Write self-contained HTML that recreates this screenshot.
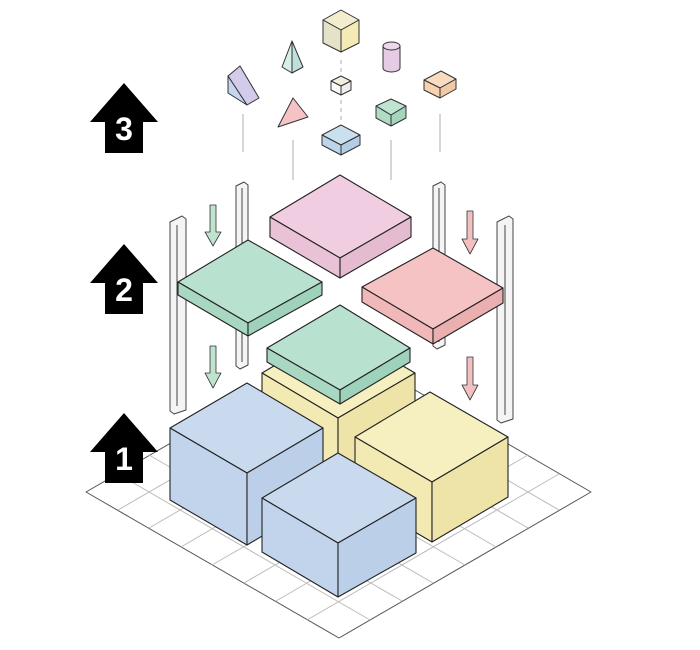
<!DOCTYPE html>
<html><head><meta charset="utf-8"><style>body{margin:0;background:#fff}svg{display:block}</style></head><body>
<svg width="700" height="650" viewBox="0 0 700 650" xmlns="http://www.w3.org/2000/svg" stroke-linejoin="round">
<defs>
<g id="arr"><path d="M0 0 L34 39 L19 39 L19 70 L-19 70 L-19 39 L-34 39 Z" fill="#000"/></g>
</defs>
<!-- grid -->
<g stroke="#bbb" stroke-width="1" fill="none">
<polygon points="339,346 591,492 339,638 86,492" fill="#fff" stroke="#555"/>
<g id="gl">
<line x1="370" y1="364" x2="118" y2="510"/><line x1="402" y1="382" x2="149" y2="528"/><line x1="433" y1="400" x2="181" y2="547"/><line x1="465" y1="419" x2="212" y2="565"/><line x1="496" y1="437" x2="244" y2="583"/><line x1="528" y1="455" x2="276" y2="601"/><line x1="559" y1="474" x2="307" y2="620"/>
<line x1="307" y1="364" x2="559" y2="510"/><line x1="276" y1="382" x2="528" y2="528"/><line x1="244" y1="400" x2="496" y2="547"/><line x1="212" y1="419" x2="465" y2="565"/><line x1="181" y1="437" x2="433" y2="583"/><line x1="149" y1="455" x2="402" y2="601"/><line x1="118" y1="474" x2="370" y2="620"/>
</g></g>
<!-- pillars -->
<g stroke="#444" stroke-width="1" fill="#f4f4f4">
<polygon points="236,186 244,182 248,185 248,365 240,369 236,366"/><line x1="242" y1="188" x2="242" y2="362"/>
<polygon points="170,222 182,216 186,219 186,410 174,414 170,411"/><line x1="177" y1="225" x2="177" y2="406"/>
<polygon points="433,186 441,182 445,185 445,345 437,349 433,346"/><line x1="439" y1="188" x2="439" y2="342"/>
<polygon points="497,222 509,216 513,219 513,419 501,423 497,420"/><line x1="505" y1="225" x2="505" y2="415"/>
</g>
<!-- down arrows -->
<g stroke="#333" stroke-width="0.8">
<path d="M210 205 L216 205 L216 232 L221 232 L213 246 L205 232 L210 232 Z" fill="#bfe3cf"/>
<path d="M210 346 L216 346 L216 373 L221 373 L213 388 L205 373 L210 373 Z" fill="#bfe3cf"/>
<path d="M467 211 L473 211 L473 239 L478 239 L470 254 L462 239 L467 239 Z" fill="#f2c0c0"/>
<path d="M467 357 L473 357 L473 385 L478 385 L470 400 L462 385 L467 385 Z" fill="#f2c0c0"/>
</g>
<g stroke="#222" stroke-width="1.1">
<!-- back yellow box -->
<polygon points="338,328 415,373 338,418 262,373" fill="#f6efbf"/>
<polygon points="262,373 338,418 338,480 262,435" fill="#f3eab3"/>
<polygon points="338,418 415,373 415,440 338,480" fill="#efe4a8"/>
<!-- center green slab -->
<polygon points="340,305 410,348 340,390 267,348" fill="#b8e2cf"/>
<polygon points="267,348 340,390 340,404 267,362" fill="#a8d8c2"/>
<polygon points="340,390 410,348 410,362 340,404" fill="#9fd2bb"/>
<!-- left blue box -->
<polygon points="247,383 323,428 247,473 170,428" fill="#c9d9ee"/>
<polygon points="170,428 247,473 247,545 170,500" fill="#c2d4ec"/>
<polygon points="247,473 323,428 323,500 247,545" fill="#bccfe8"/>
<!-- right yellow box -->
<polygon points="430,392 508,437 432,482 355,437" fill="#f6efbf"/>
<polygon points="355,437 432,482 432,542 355,497" fill="#f3eab3"/>
<polygon points="432,482 508,437 508,497 432,542" fill="#efe4a8"/>
<!-- front blue box -->
<polygon points="338,453 416,498 338,543 262,498" fill="#c9d9ee"/>
<polygon points="262,498 338,543 338,597 262,552" fill="#c2d4ec"/>
<polygon points="338,543 416,498 416,553 338,597" fill="#bccfe8"/>
<!-- left green slab -->
<polygon points="248,240 322,282 248,323 178,282" fill="#b8e2cf"/>
<polygon points="178,282 248,323 248,336 178,295" fill="#a8d8c2"/>
<polygon points="248,323 322,282 322,295 248,336" fill="#9fd2bb"/>
<!-- pink slab -->
<polygon points="340,175 411,217 340,258 270,217" fill="#f0cde0"/>
<polygon points="270,217 340,258 340,278 270,237" fill="#eac2d7"/>
<polygon points="340,258 411,217 411,237 340,278" fill="#e5bbd1"/>
<!-- red slab -->
<polygon points="433,248 503,288 433,329 362,287" fill="#f5c3c3"/>
<polygon points="362,287 433,329 433,344 362,302" fill="#f0b8b8"/>
<polygon points="433,329 503,288 503,303 433,344" fill="#ebafaf"/>
</g>
<!-- top shapes -->
<g stroke="#bbb" stroke-width="1.2">
<line x1="243" y1="114" x2="243" y2="152"/><line x1="293" y1="140" x2="293" y2="180"/>
<line x1="341" y1="60" x2="341" y2="74" stroke-dasharray="4 4"/><line x1="341" y1="100" x2="341" y2="120" stroke-dasharray="4 4"/>
<line x1="391" y1="140" x2="391" y2="180"/><line x1="440" y1="114" x2="440" y2="152"/>
</g>
<g stroke="#333" stroke-width="1">
<polygon points="341,10 359,20 341,30 323,20" fill="#f2edcc"/><polygon points="323,20 341,30 341,52 323,43" fill="#e5e2c8"/><polygon points="341,30 359,20 359,43 341,52" fill="#f3eab5"/>
<polygon points="292,41 282,67 292,73" fill="#d7eee9"/><polygon points="292,41 292,73 303,67" fill="#bfe0dd"/>
<path d="M383 46 L383 68 A8.5 4 0 0 0 400 68 L400 46" fill="#e5cbe3"/><ellipse cx="391.5" cy="46" rx="8.5" ry="4" fill="#edd7eb"/>
<polygon points="228,76 240,66 259,98 247,105" fill="#d4cbea"/><polygon points="228,76 247,105 228,93" fill="#c7d6ee"/>
<polygon points="341,76 351,81 341,86 331,81" fill="#f3efe0"/><polygon points="331,81 341,86 341,95 331,90" fill="#fafafa"/><polygon points="341,86 351,81 351,90 341,95" fill="#eeeeee"/>
<polygon points="278,127 293,98 308,117" fill="#f5c3c6"/>
<polygon points="391,99 406,106 391,115 376,106" fill="#bfe5d2"/><polygon points="376,106 391,115 391,126 376,118" fill="#b0dcc6"/><polygon points="391,115 406,106 406,118 391,126" fill="#a5d4bd"/>
<polygon points="441,71 456,79 440,88 424,80" fill="#f9dcc0"/><polygon points="424,80 440,88 440,98 424,90" fill="#f5d2b2"/><polygon points="440,88 456,79 456,89 440,98" fill="#f0c9a6"/>
<polygon points="341,125 360,135 341,145 322,135" fill="#cbe0ee"/><polygon points="322,135 341,145 341,155 322,145" fill="#bcd5ea"/><polygon points="341,145 360,135 360,145 341,155" fill="#b2cde4"/>
</g>
<!-- numbered arrows -->
<use href="#arr" x="124" y="83"/><use href="#arr" x="124" y="244"/><use href="#arr" x="124" y="413"/>
<g fill="#fff" font-family="Liberation Sans, sans-serif" font-weight="bold" font-size="32" text-anchor="middle">
<text x="124" y="140">3</text><text x="124" y="301">2</text><text x="124" y="470">1</text>
</g>
</svg>
</body></html>
